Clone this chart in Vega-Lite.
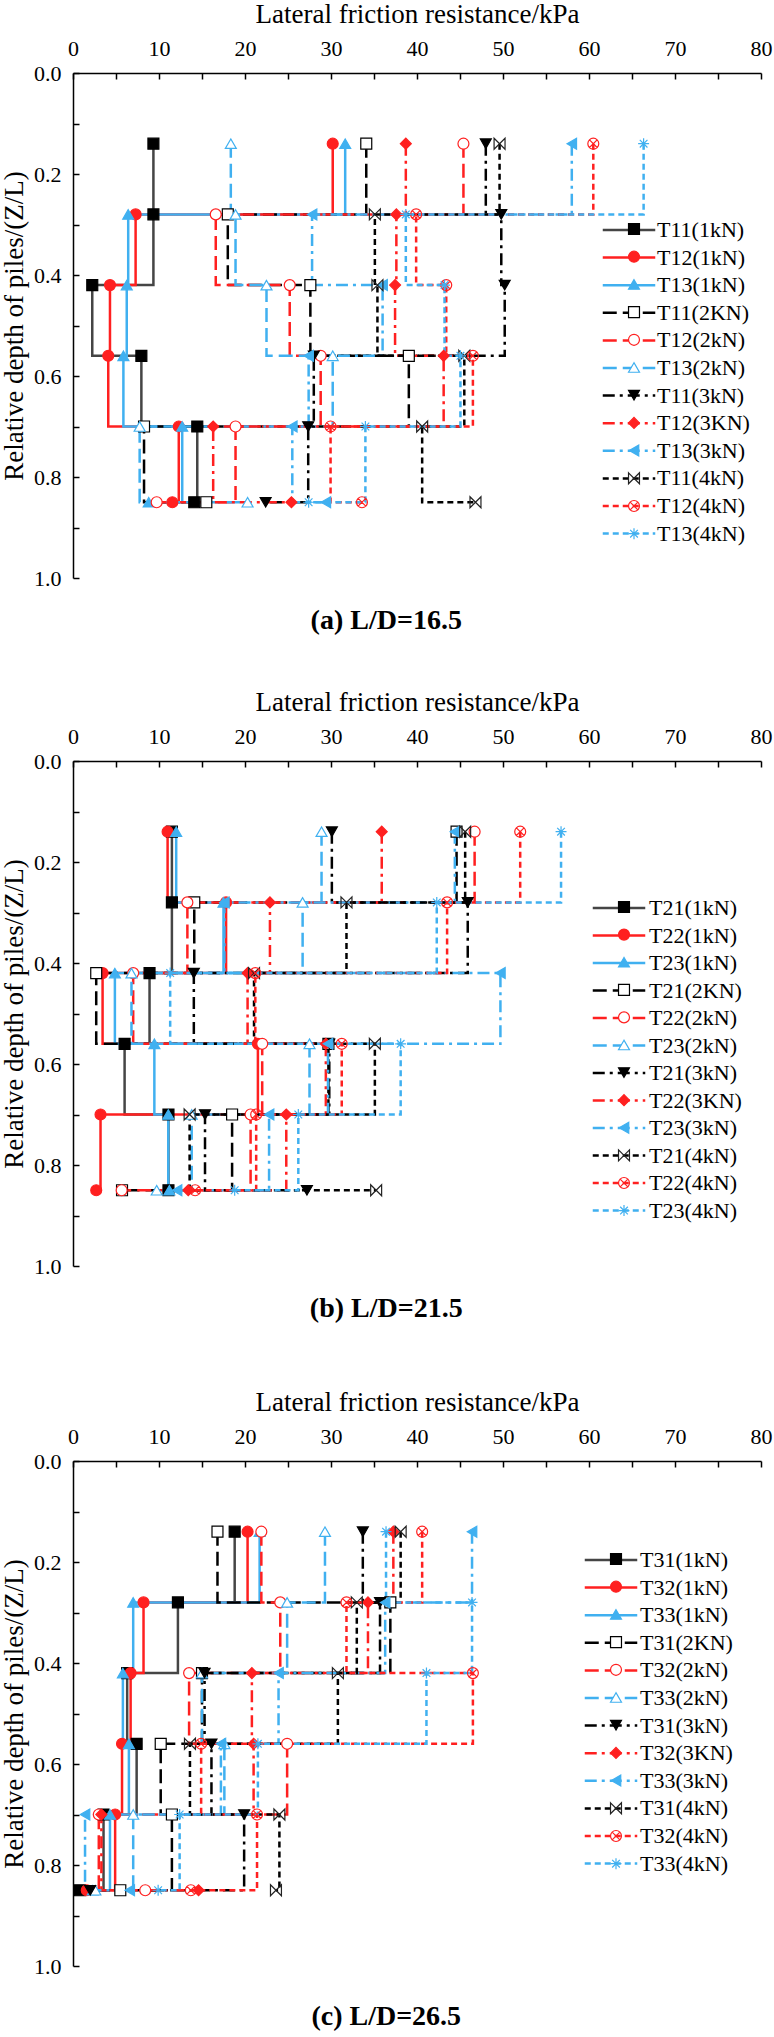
{
  "$schema": "https://vega.github.io/schema/vega-lite/v6.json",
  "background": "white",
  "padding": {"left": 0, "top": 0, "right": 4, "bottom": 0},
  "config": {
    "view": {"stroke": null},
    "font": "Liberation Serif",
    "axis": {
      "grid": false,
      "domainColor": "black",
      "domainWidth": 1.5,
      "tickColor": "black",
      "tickWidth": 1.5,
      "tickSize": -6,
      "labelColor": "black",
      "titleColor": "black",
      "labelFont": "Liberation Serif",
      "titleFont": "Liberation Serif",
      "labelFontSize": 22,
      "titleFontSize": 27,
      "titleFontWeight": "normal",
      "labelFlush": false,
      "labelOverlap": false
    },
    "legend": {
      "labelFont": "Liberation Serif",
      "labelFontSize": 22,
      "labelColor": "black"
    }
  },
  "data": {
    "values": [
      {"panel":"a","series":"T11(1kN)","depth":0.14,"friction":9.35},
      {"panel":"a","series":"T11(1kN)","depth":0.28,"friction":9.35},
      {"panel":"a","series":"T11(1kN)","depth":0.42,"friction":2.24},
      {"panel":"a","series":"T11(1kN)","depth":0.56,"friction":7.95},
      {"panel":"a","series":"T11(1kN)","depth":0.70,"friction":14.45},
      {"panel":"a","series":"T11(1kN)","depth":0.85,"friction":14.1},
      {"panel":"a","series":"T12(1kN)","depth":0.14,"friction":30.2},
      {"panel":"a","series":"T12(1kN)","depth":0.28,"friction":7.28},
      {"panel":"a","series":"T12(1kN)","depth":0.42,"friction":4.3},
      {"panel":"a","series":"T12(1kN)","depth":0.56,"friction":4.1},
      {"panel":"a","series":"T12(1kN)","depth":0.70,"friction":12.3},
      {"panel":"a","series":"T12(1kN)","depth":0.85,"friction":11.55},
      {"panel":"a","series":"T13(1kN)","depth":0.14,"friction":31.65},
      {"panel":"a","series":"T13(1kN)","depth":0.28,"friction":6.42},
      {"panel":"a","series":"T13(1kN)","depth":0.42,"friction":6.25},
      {"panel":"a","series":"T13(1kN)","depth":0.56,"friction":5.86},
      {"panel":"a","series":"T13(1kN)","depth":0.70,"friction":12.7},
      {"panel":"a","series":"T13(1kN)","depth":0.85,"friction":8.8},
      {"panel":"a","series":"T11(2KN)","depth":0.14,"friction":34.1},
      {"panel":"a","series":"T11(2KN)","depth":0.28,"friction":18.0},
      {"panel":"a","series":"T11(2KN)","depth":0.42,"friction":27.6},
      {"panel":"a","series":"T11(2KN)","depth":0.56,"friction":39.05},
      {"panel":"a","series":"T11(2KN)","depth":0.70,"friction":8.26},
      {"panel":"a","series":"T11(2KN)","depth":0.85,"friction":15.5},
      {"panel":"a","series":"T12(2kN)","depth":0.14,"friction":45.4},
      {"panel":"a","series":"T12(2kN)","depth":0.28,"friction":16.6},
      {"panel":"a","series":"T12(2kN)","depth":0.42,"friction":25.2},
      {"panel":"a","series":"T12(2kN)","depth":0.56,"friction":28.8},
      {"panel":"a","series":"T12(2kN)","depth":0.70,"friction":18.9},
      {"panel":"a","series":"T12(2kN)","depth":0.85,"friction":9.73},
      {"panel":"a","series":"T13(2kN)","depth":0.14,"friction":18.35},
      {"panel":"a","series":"T13(2kN)","depth":0.28,"friction":18.9},
      {"panel":"a","series":"T13(2kN)","depth":0.42,"friction":22.5},
      {"panel":"a","series":"T13(2kN)","depth":0.56,"friction":30.2},
      {"panel":"a","series":"T13(2kN)","depth":0.70,"friction":7.75},
      {"panel":"a","series":"T13(2kN)","depth":0.85,"friction":20.3},
      {"panel":"a","series":"T11(3kN)","depth":0.14,"friction":48.0},
      {"panel":"a","series":"T11(3kN)","depth":0.28,"friction":49.8},
      {"panel":"a","series":"T11(3kN)","depth":0.42,"friction":50.2},
      {"panel":"a","series":"T11(3kN)","depth":0.56,"friction":28.0},
      {"panel":"a","series":"T11(3kN)","depth":0.70,"friction":27.35},
      {"panel":"a","series":"T11(3kN)","depth":0.85,"friction":22.4},
      {"panel":"a","series":"T12(3KN)","depth":0.14,"friction":38.7},
      {"panel":"a","series":"T12(3KN)","depth":0.28,"friction":37.6},
      {"panel":"a","series":"T12(3KN)","depth":0.42,"friction":37.45},
      {"panel":"a","series":"T12(3KN)","depth":0.56,"friction":43.1},
      {"panel":"a","series":"T12(3KN)","depth":0.70,"friction":16.3},
      {"panel":"a","series":"T12(3KN)","depth":0.85,"friction":25.4},
      {"panel":"a","series":"T13(3kN)","depth":0.14,"friction":58.0},
      {"panel":"a","series":"T13(3kN)","depth":0.28,"friction":27.8},
      {"panel":"a","series":"T13(3kN)","depth":0.42,"friction":36.0},
      {"panel":"a","series":"T13(3kN)","depth":0.56,"friction":27.4},
      {"panel":"a","series":"T13(3kN)","depth":0.70,"friction":25.5},
      {"panel":"a","series":"T13(3kN)","depth":0.85,"friction":29.4},
      {"panel":"a","series":"T11(4kN)","depth":0.14,"friction":49.6},
      {"panel":"a","series":"T11(4kN)","depth":0.28,"friction":35.1},
      {"panel":"a","series":"T11(4kN)","depth":0.42,"friction":35.4},
      {"panel":"a","series":"T11(4kN)","depth":0.56,"friction":45.5},
      {"panel":"a","series":"T11(4kN)","depth":0.70,"friction":40.6},
      {"panel":"a","series":"T11(4kN)","depth":0.85,"friction":46.8},
      {"panel":"a","series":"T12(4kN)","depth":0.14,"friction":60.5},
      {"panel":"a","series":"T12(4kN)","depth":0.28,"friction":39.9},
      {"panel":"a","series":"T12(4kN)","depth":0.42,"friction":43.4},
      {"panel":"a","series":"T12(4kN)","depth":0.56,"friction":46.5},
      {"panel":"a","series":"T12(4kN)","depth":0.70,"friction":29.95},
      {"panel":"a","series":"T12(4kN)","depth":0.85,"friction":33.6},
      {"panel":"a","series":"T13(4kN)","depth":0.14,"friction":66.35},
      {"panel":"a","series":"T13(4kN)","depth":0.28,"friction":38.7},
      {"panel":"a","series":"T13(4kN)","depth":0.42,"friction":43.2},
      {"panel":"a","series":"T13(4kN)","depth":0.56,"friction":45.05},
      {"panel":"a","series":"T13(4kN)","depth":0.70,"friction":34.0},
      {"panel":"a","series":"T13(4kN)","depth":0.85,"friction":27.4},

      {"panel":"b","series":"T21(1kN)","depth":0.14,"friction":11.5},
      {"panel":"b","series":"T21(1kN)","depth":0.28,"friction":11.5},
      {"panel":"b","series":"T21(1kN)","depth":0.42,"friction":8.9},
      {"panel":"b","series":"T21(1kN)","depth":0.56,"friction":6.0},
      {"panel":"b","series":"T21(1kN)","depth":0.70,"friction":11.1},
      {"panel":"b","series":"T21(1kN)","depth":0.85,"friction":11.1},
      {"panel":"b","series":"T22(1kN)","depth":0.14,"friction":11.0},
      {"panel":"b","series":"T22(1kN)","depth":0.28,"friction":17.8},
      {"panel":"b","series":"T22(1kN)","depth":0.42,"friction":3.44},
      {"panel":"b","series":"T22(1kN)","depth":0.56,"friction":21.5},
      {"panel":"b","series":"T22(1kN)","depth":0.70,"friction":3.2},
      {"panel":"b","series":"T22(1kN)","depth":0.85,"friction":2.7},
      {"panel":"b","series":"T23(1kN)","depth":0.14,"friction":12.0},
      {"panel":"b","series":"T23(1kN)","depth":0.28,"friction":17.5},
      {"panel":"b","series":"T23(1kN)","depth":0.42,"friction":4.87},
      {"panel":"b","series":"T23(1kN)","depth":0.56,"friction":9.46},
      {"panel":"b","series":"T23(1kN)","depth":0.70,"friction":11.08},
      {"panel":"b","series":"T23(1kN)","depth":0.85,"friction":11.2},
      {"panel":"b","series":"T21(2KN)","depth":0.14,"friction":44.6},
      {"panel":"b","series":"T21(2KN)","depth":0.28,"friction":14.1},
      {"panel":"b","series":"T21(2KN)","depth":0.42,"friction":2.7},
      {"panel":"b","series":"T21(2KN)","depth":0.56,"friction":29.7},
      {"panel":"b","series":"T21(2KN)","depth":0.70,"friction":18.5},
      {"panel":"b","series":"T21(2KN)","depth":0.85,"friction":5.7},
      {"panel":"b","series":"T22(2kN)","depth":0.14,"friction":46.7},
      {"panel":"b","series":"T22(2kN)","depth":0.28,"friction":13.3},
      {"panel":"b","series":"T22(2kN)","depth":0.42,"friction":7.0},
      {"panel":"b","series":"T22(2kN)","depth":0.56,"friction":22.0},
      {"panel":"b","series":"T22(2kN)","depth":0.70,"friction":20.65},
      {"panel":"b","series":"T22(2kN)","depth":0.85,"friction":5.66},
      {"panel":"b","series":"T23(2kN)","depth":0.14,"friction":28.9},
      {"panel":"b","series":"T23(2kN)","depth":0.28,"friction":26.7},
      {"panel":"b","series":"T23(2kN)","depth":0.42,"friction":6.8},
      {"panel":"b","series":"T23(2kN)","depth":0.56,"friction":27.5},
      {"panel":"b","series":"T23(2kN)","depth":0.70,"friction":13.8},
      {"panel":"b","series":"T23(2kN)","depth":0.85,"friction":9.73},
      {"panel":"b","series":"T21(3kN)","depth":0.14,"friction":30.1},
      {"panel":"b","series":"T21(3kN)","depth":0.28,"friction":45.9},
      {"panel":"b","series":"T21(3kN)","depth":0.42,"friction":14.05},
      {"panel":"b","series":"T21(3kN)","depth":0.56,"friction":29.8},
      {"panel":"b","series":"T21(3kN)","depth":0.70,"friction":15.35},
      {"panel":"b","series":"T21(3kN)","depth":0.85,"friction":27.2},
      {"panel":"b","series":"T22(3KN)","depth":0.14,"friction":35.9},
      {"panel":"b","series":"T22(3KN)","depth":0.28,"friction":22.9},
      {"panel":"b","series":"T22(3KN)","depth":0.42,"friction":20.3},
      {"panel":"b","series":"T22(3KN)","depth":0.56,"friction":29.4},
      {"panel":"b","series":"T22(3KN)","depth":0.70,"friction":24.8},
      {"panel":"b","series":"T22(3KN)","depth":0.85,"friction":13.4},
      {"panel":"b","series":"T23(3kN)","depth":0.14,"friction":44.4},
      {"panel":"b","series":"T23(3kN)","depth":0.28,"friction":17.6},
      {"panel":"b","series":"T23(3kN)","depth":0.42,"friction":49.7},
      {"panel":"b","series":"T23(3kN)","depth":0.56,"friction":29.65},
      {"panel":"b","series":"T23(3kN)","depth":0.70,"friction":22.8},
      {"panel":"b","series":"T23(3kN)","depth":0.85,"friction":12.1},
      {"panel":"b","series":"T21(4kN)","depth":0.14,"friction":45.6},
      {"panel":"b","series":"T21(4kN)","depth":0.28,"friction":31.8},
      {"panel":"b","series":"T21(4kN)","depth":0.42,"friction":21.05},
      {"panel":"b","series":"T21(4kN)","depth":0.56,"friction":35.1},
      {"panel":"b","series":"T21(4kN)","depth":0.70,"friction":13.56},
      {"panel":"b","series":"T21(4kN)","depth":0.85,"friction":35.25},
      {"panel":"b","series":"T22(4kN)","depth":0.14,"friction":52.0},
      {"panel":"b","series":"T22(4kN)","depth":0.28,"friction":43.5},
      {"panel":"b","series":"T22(4kN)","depth":0.42,"friction":21.2},
      {"panel":"b","series":"T22(4kN)","depth":0.56,"friction":31.25},
      {"panel":"b","series":"T22(4kN)","depth":0.70,"friction":21.3},
      {"panel":"b","series":"T22(4kN)","depth":0.85,"friction":14.2},
      {"panel":"b","series":"T23(4kN)","depth":0.14,"friction":56.75},
      {"panel":"b","series":"T23(4kN)","depth":0.28,"friction":42.3},
      {"panel":"b","series":"T23(4kN)","depth":0.42,"friction":11.3},
      {"panel":"b","series":"T23(4kN)","depth":0.56,"friction":38.1},
      {"panel":"b","series":"T23(4kN)","depth":0.70,"friction":26.2},
      {"panel":"b","series":"T23(4kN)","depth":0.85,"friction":18.8},

      {"panel":"c","series":"T31(1kN)","depth":0.14,"friction":18.8},
      {"panel":"c","series":"T31(1kN)","depth":0.28,"friction":12.2},
      {"panel":"c","series":"T31(1kN)","depth":0.42,"friction":6.3},
      {"panel":"c","series":"T31(1kN)","depth":0.56,"friction":7.4},
      {"panel":"c","series":"T31(1kN)","depth":0.70,"friction":3.55},
      {"panel":"c","series":"T31(1kN)","depth":0.85,"friction":0.8},
      {"panel":"c","series":"T32(1kN)","depth":0.14,"friction":20.3},
      {"panel":"c","series":"T32(1kN)","depth":0.28,"friction":8.2},
      {"panel":"c","series":"T32(1kN)","depth":0.42,"friction":6.7},
      {"panel":"c","series":"T32(1kN)","depth":0.56,"friction":5.7},
      {"panel":"c","series":"T32(1kN)","depth":0.70,"friction":4.9},
      {"panel":"c","series":"T32(1kN)","depth":0.85,"friction":1.6},
      {"panel":"c","series":"T33(1kN)","depth":0.14,"friction":21.7},
      {"panel":"c","series":"T33(1kN)","depth":0.28,"friction":7.0},
      {"panel":"c","series":"T33(1kN)","depth":0.42,"friction":5.8},
      {"panel":"c","series":"T33(1kN)","depth":0.56,"friction":6.5},
      {"panel":"c","series":"T33(1kN)","depth":0.70,"friction":4.3},
      {"panel":"c","series":"T33(1kN)","depth":0.85,"friction":2.3},
      {"panel":"c","series":"T31(2KN)","depth":0.14,"friction":16.8},
      {"panel":"c","series":"T31(2KN)","depth":0.28,"friction":36.9},
      {"panel":"c","series":"T31(2KN)","depth":0.42,"friction":15.0},
      {"panel":"c","series":"T31(2KN)","depth":0.56,"friction":10.2},
      {"panel":"c","series":"T31(2KN)","depth":0.70,"friction":11.5},
      {"panel":"c","series":"T31(2KN)","depth":0.85,"friction":5.5},
      {"panel":"c","series":"T32(2kN)","depth":0.14,"friction":21.9},
      {"panel":"c","series":"T32(2kN)","depth":0.28,"friction":24.1},
      {"panel":"c","series":"T32(2kN)","depth":0.42,"friction":13.5},
      {"panel":"c","series":"T32(2kN)","depth":0.56,"friction":24.9},
      {"panel":"c","series":"T32(2kN)","depth":0.70,"friction":3.0},
      {"panel":"c","series":"T32(2kN)","depth":0.85,"friction":8.4},
      {"panel":"c","series":"T33(2kN)","depth":0.14,"friction":29.3},
      {"panel":"c","series":"T33(2kN)","depth":0.28,"friction":24.9},
      {"panel":"c","series":"T33(2kN)","depth":0.42,"friction":15.0},
      {"panel":"c","series":"T33(2kN)","depth":0.56,"friction":17.6},
      {"panel":"c","series":"T33(2kN)","depth":0.70,"friction":7.0},
      {"panel":"c","series":"T33(2kN)","depth":0.85,"friction":2.6},
      {"panel":"c","series":"T31(3kN)","depth":0.14,"friction":33.7},
      {"panel":"c","series":"T31(3kN)","depth":0.28,"friction":35.7},
      {"panel":"c","series":"T31(3kN)","depth":0.42,"friction":15.3},
      {"panel":"c","series":"T31(3kN)","depth":0.56,"friction":16.1},
      {"panel":"c","series":"T31(3kN)","depth":0.70,"friction":19.9},
      {"panel":"c","series":"T31(3kN)","depth":0.85,"friction":2.0},
      {"panel":"c","series":"T32(3KN)","depth":0.14,"friction":37.25},
      {"panel":"c","series":"T32(3KN)","depth":0.28,"friction":34.3},
      {"panel":"c","series":"T32(3KN)","depth":0.42,"friction":20.8},
      {"panel":"c","series":"T32(3KN)","depth":0.56,"friction":21.0},
      {"panel":"c","series":"T32(3KN)","depth":0.70,"friction":3.3},
      {"panel":"c","series":"T32(3KN)","depth":0.85,"friction":14.6},
      {"panel":"c","series":"T33(3kN)","depth":0.14,"friction":46.4},
      {"panel":"c","series":"T33(3kN)","depth":0.28,"friction":36.3},
      {"panel":"c","series":"T33(3kN)","depth":0.42,"friction":23.9},
      {"panel":"c","series":"T33(3kN)","depth":0.56,"friction":17.2},
      {"panel":"c","series":"T33(3kN)","depth":0.70,"friction":1.4},
      {"panel":"c","series":"T33(3kN)","depth":0.85,"friction":6.6},
      {"panel":"c","series":"T31(4kN)","depth":0.14,"friction":38.1},
      {"panel":"c","series":"T31(4kN)","depth":0.28,"friction":33.0},
      {"panel":"c","series":"T31(4kN)","depth":0.42,"friction":30.8},
      {"panel":"c","series":"T31(4kN)","depth":0.56,"friction":13.6},
      {"panel":"c","series":"T31(4kN)","depth":0.70,"friction":24.0},
      {"panel":"c","series":"T31(4kN)","depth":0.85,"friction":23.6},
      {"panel":"c","series":"T32(4kN)","depth":0.14,"friction":40.6},
      {"panel":"c","series":"T32(4kN)","depth":0.28,"friction":31.8},
      {"panel":"c","series":"T32(4kN)","depth":0.42,"friction":46.5},
      {"panel":"c","series":"T32(4kN)","depth":0.56,"friction":14.9},
      {"panel":"c","series":"T32(4kN)","depth":0.70,"friction":21.4},
      {"panel":"c","series":"T32(4kN)","depth":0.85,"friction":13.7},
      {"panel":"c","series":"T33(4kN)","depth":0.14,"friction":36.4},
      {"panel":"c","series":"T33(4kN)","depth":0.28,"friction":46.4},
      {"panel":"c","series":"T33(4kN)","depth":0.42,"friction":41.1},
      {"panel":"c","series":"T33(4kN)","depth":0.56,"friction":21.5},
      {"panel":"c","series":"T33(4kN)","depth":0.70,"friction":12.4},
      {"panel":"c","series":"T33(4kN)","depth":0.85,"friction":9.9}
    ]
  },
  "resolve": {
    "scale": {"color": "independent", "strokeDash": "independent", "shape": "independent", "fill": "independent", "stroke": "independent"},
    "legend": {"color": "independent", "strokeDash": "independent", "shape": "independent", "fill": "independent", "stroke": "independent"}
  },
  "spacing": 65,
  "vconcat": [
    {
      "resolve": {
        "scale": {"color": "independent", "strokeDash": "independent", "shape": "independent", "fill": "independent", "stroke": "independent"},
        "legend": {"color": "independent", "strokeDash": "independent", "shape": "independent", "fill": "independent", "stroke": "independent"}
      },
      "spacing": 53,
      "vconcat": [
        {
          "transform": [{"filter": "datum.panel == 'a'"}],
          "width": 688,
          "height": 505,
          "title": {"text": "(a) L/D=16.5", "orient": "bottom", "anchor": "middle", "frame": "bounds", "offset": 18, "font": "Liberation Serif", "fontSize": 28, "fontWeight": "bold", "color": "black"},
          "encoding": {
            "x": {"field": "friction", "type": "quantitative", "scale": {"domain": [0, 80], "nice": false},
              "axis": {"orient": "top", "title": "Lateral friction resistance/kPa", "values": [0,5,10,15,20,25,30,35,40,45,50,55,60,65,70,75,80], "labelExpr": "datum.value % 10 === 0 ? datum.label : ''", "labelPadding": 19, "titlePadding": 9}},
            "y": {"field": "depth", "type": "quantitative", "scale": {"domain": [0, 1], "reverse": true, "nice": false},
              "axis": {"title": "Relative depth of piles/(Z/L)", "values": [0,0.1,0.2,0.3,0.4,0.5,0.6,0.7,0.8,0.9,1], "labelExpr": "round(datum.value * 10) % 2 === 0 ? format(datum.value, '.1f') : ''", "labelPadding": 18, "titlePadding": 5}}
          },
          "resolve": {
            "scale": {"color": "independent", "strokeDash": "independent", "shape": "independent", "fill": "independent", "stroke": "independent"},
            "legend": {"color": "independent", "strokeDash": "independent", "shape": "independent", "fill": "independent", "stroke": "independent"}
          },
          "layer": [
            {
              "mark": {"type": "line", "interpolate": "step-before", "strokeWidth": 2.5},
              "encoding": {
                "color": {"field": "series", "type": "nominal",
                  "scale": {"domain": ["T11(1kN)","T12(1kN)","T13(1kN)","T11(2KN)","T12(2kN)","T13(2kN)","T11(3kN)","T12(3KN)","T13(3kN)","T11(4kN)","T12(4kN)","T13(4kN)"],
                            "range": ["#454545","#ff2020","#40b0f0","#000000","#ff2020","#40b0f0","#000000","#ff2020","#40b0f0","#000000","#ff2020","#40b0f0"]},
                  "legend": {"orient": "none", "legendX": 544, "legendY": 145, "direction": "vertical", "title": null, "symbolType": "M-2.5,0H2.5", "symbolSize": 441, "symbolStrokeWidth": 2.5, "labelOffset": 16, "rowPadding": 4.6, "labelLimit": 200}},
                "strokeDash": {"field": "series", "type": "nominal",
                  "scale": {"domain": ["T11(1kN)","T12(1kN)","T13(1kN)","T11(2KN)","T12(2kN)","T13(2kN)","T11(3kN)","T12(3KN)","T13(3kN)","T11(4kN)","T12(4kN)","T13(4kN)"],
                            "range": [[1,0],[1,0],[1,0],[14,6],[14,6],[14,6],[12,5,3,5],[12,5,3,5],[12,5,3,5],[6,4],[6,4],[6,4]]},
                  "legend": {"orient": "none", "legendX": 544, "legendY": 145, "direction": "vertical", "title": null, "symbolType": "M-2.5,0H2.5", "symbolSize": 441, "symbolStrokeWidth": 2.5, "labelOffset": 16, "rowPadding": 4.6, "labelLimit": 200}},
                "order": {"field": "depth", "type": "quantitative"}
              }
            },
            {
              "mark": {"type": "point", "size": 120, "opacity": 1, "strokeWidth": 1.2},
              "encoding": {
                "shape": {"field": "series", "type": "nominal",
                  "scale": {"domain": ["T11(1kN)","T12(1kN)","T13(1kN)","T11(2KN)","T12(2kN)","T13(2kN)","T11(3kN)","T12(3KN)","T13(3kN)","T11(4kN)","T12(4kN)","T13(4kN)"],
                            "range": ["square","circle","triangle-up","square","circle","triangle-up","triangle-down","diamond","triangle-left","M-1,-1L1,1L1,-1L-1,1Z","M1,0A1,1,0,1,1,-1,0A1,1,0,1,1,1,0ZM-0.7,-0.7L0.7,0.7M-0.7,0.7L0.7,-0.7","M0,-1V1M-1,0H1M-0.7,-0.7L0.7,0.7M-0.7,0.7L0.7,-0.7"]},
                  "legend": {"orient": "none", "legendX": 550, "legendY": 145, "direction": "vertical", "title": null, "symbolSize": 120, "symbolStrokeWidth": 1.2, "symbolOpacity": 1, "labelExpr": "''", "labelOffset": 16, "rowPadding": 5.7}},
                "fill": {"field": "series", "type": "nominal",
                  "scale": {"domain": ["T11(1kN)","T12(1kN)","T13(1kN)","T11(2KN)","T12(2kN)","T13(2kN)","T11(3kN)","T12(3KN)","T13(3kN)","T11(4kN)","T12(4kN)","T13(4kN)"],
                            "range": ["#000000","#ff2020","#40b0f0","#ffffff","#ffffff","#ffffff","#000000","#ff2020","#40b0f0","transparent","transparent","transparent"]},
                  "legend": {"orient": "none", "legendX": 550, "legendY": 145, "direction": "vertical", "title": null, "symbolSize": 120, "symbolStrokeWidth": 1.2, "symbolOpacity": 1, "labelExpr": "''", "labelOffset": 16, "rowPadding": 5.7}},
                "stroke": {"field": "series", "type": "nominal",
                  "scale": {"domain": ["T11(1kN)","T12(1kN)","T13(1kN)","T11(2KN)","T12(2kN)","T13(2kN)","T11(3kN)","T12(3KN)","T13(3kN)","T11(4kN)","T12(4kN)","T13(4kN)"],
                            "range": ["#000000","#ff2020","#40b0f0","#000000","#ff2020","#40b0f0","#000000","#ff2020","#40b0f0","#222222","#ff2020","#40b0f0"]},
                  "legend": {"orient": "none", "legendX": 550, "legendY": 145, "direction": "vertical", "title": null, "symbolSize": 120, "symbolStrokeWidth": 1.2, "symbolOpacity": 1, "labelExpr": "''", "labelOffset": 16, "rowPadding": 5.7}}
              }
            }
          ]
        },
        {
          "transform": [{"filter": "datum.panel == 'b'"}],
          "width": 688,
          "height": 505,
          "title": {"text": "(b) L/D=21.5", "orient": "bottom", "anchor": "middle", "frame": "bounds", "offset": 18, "font": "Liberation Serif", "fontSize": 28, "fontWeight": "bold", "color": "black"},
          "encoding": {
            "x": {"field": "friction", "type": "quantitative", "scale": {"domain": [0, 80], "nice": false},
              "axis": {"orient": "top", "title": "Lateral friction resistance/kPa", "values": [0,5,10,15,20,25,30,35,40,45,50,55,60,65,70,75,80], "labelExpr": "datum.value % 10 === 0 ? datum.label : ''", "labelPadding": 19, "titlePadding": 9}},
            "y": {"field": "depth", "type": "quantitative", "scale": {"domain": [0, 1], "reverse": true, "nice": false},
              "axis": {"title": "Relative depth of piles/(Z/L)", "values": [0,0.1,0.2,0.3,0.4,0.5,0.6,0.7,0.8,0.9,1], "labelExpr": "round(datum.value * 10) % 2 === 0 ? format(datum.value, '.1f') : ''", "labelPadding": 18, "titlePadding": 5}}
          },
          "resolve": {
            "scale": {"color": "independent", "strokeDash": "independent", "shape": "independent", "fill": "independent", "stroke": "independent"},
            "legend": {"color": "independent", "strokeDash": "independent", "shape": "independent", "fill": "independent", "stroke": "independent"}
          },
          "layer": [
            {
              "mark": {"type": "line", "interpolate": "step-before", "strokeWidth": 2.5},
              "encoding": {
                "color": {"field": "series", "type": "nominal",
                  "scale": {"domain": ["T21(1kN)","T22(1kN)","T23(1kN)","T21(2KN)","T22(2kN)","T23(2kN)","T21(3kN)","T22(3KN)","T23(3kN)","T21(4kN)","T22(4kN)","T23(4kN)"],
                            "range": ["#454545","#ff2020","#40b0f0","#000000","#ff2020","#40b0f0","#000000","#ff2020","#40b0f0","#000000","#ff2020","#40b0f0"]},
                  "legend": {"orient": "none", "legendX": 534, "legendY": 135, "direction": "vertical", "title": null, "symbolType": "M-2.5,0H2.5", "symbolSize": 441, "symbolStrokeWidth": 2.5, "labelOffset": 18, "rowPadding": 4.5, "labelLimit": 200}},
                "strokeDash": {"field": "series", "type": "nominal",
                  "scale": {"domain": ["T21(1kN)","T22(1kN)","T23(1kN)","T21(2KN)","T22(2kN)","T23(2kN)","T21(3kN)","T22(3KN)","T23(3kN)","T21(4kN)","T22(4kN)","T23(4kN)"],
                            "range": [[1,0],[1,0],[1,0],[14,6],[14,6],[14,6],[12,5,3,5],[12,5,3,5],[12,5,3,5],[6,4],[6,4],[6,4]]},
                  "legend": {"orient": "none", "legendX": 534, "legendY": 135, "direction": "vertical", "title": null, "symbolType": "M-2.5,0H2.5", "symbolSize": 441, "symbolStrokeWidth": 2.5, "labelOffset": 18, "rowPadding": 4.5, "labelLimit": 200}},
                "order": {"field": "depth", "type": "quantitative"}
              }
            },
            {
              "mark": {"type": "point", "size": 120, "opacity": 1, "strokeWidth": 1.2},
              "encoding": {
                "shape": {"field": "series", "type": "nominal",
                  "scale": {"domain": ["T21(1kN)","T22(1kN)","T23(1kN)","T21(2KN)","T22(2kN)","T23(2kN)","T21(3kN)","T22(3KN)","T23(3kN)","T21(4kN)","T22(4kN)","T23(4kN)"],
                            "range": ["square","circle","triangle-up","square","circle","triangle-up","triangle-down","diamond","triangle-left","M-1,-1L1,1L1,-1L-1,1Z","M1,0A1,1,0,1,1,-1,0A1,1,0,1,1,1,0ZM-0.7,-0.7L0.7,0.7M-0.7,0.7L0.7,-0.7","M0,-1V1M-1,0H1M-0.7,-0.7L0.7,0.7M-0.7,0.7L0.7,-0.7"]},
                  "legend": {"orient": "none", "legendX": 540, "legendY": 135, "direction": "vertical", "title": null, "symbolSize": 120, "symbolStrokeWidth": 1.2, "symbolOpacity": 1, "labelExpr": "''", "labelOffset": 18, "rowPadding": 5.6}},
                "fill": {"field": "series", "type": "nominal",
                  "scale": {"domain": ["T21(1kN)","T22(1kN)","T23(1kN)","T21(2KN)","T22(2kN)","T23(2kN)","T21(3kN)","T22(3KN)","T23(3kN)","T21(4kN)","T22(4kN)","T23(4kN)"],
                            "range": ["#000000","#ff2020","#40b0f0","#ffffff","#ffffff","#ffffff","#000000","#ff2020","#40b0f0","transparent","transparent","transparent"]},
                  "legend": {"orient": "none", "legendX": 540, "legendY": 135, "direction": "vertical", "title": null, "symbolSize": 120, "symbolStrokeWidth": 1.2, "symbolOpacity": 1, "labelExpr": "''", "labelOffset": 18, "rowPadding": 5.6}},
                "stroke": {"field": "series", "type": "nominal",
                  "scale": {"domain": ["T21(1kN)","T22(1kN)","T23(1kN)","T21(2KN)","T22(2kN)","T23(2kN)","T21(3kN)","T22(3KN)","T23(3kN)","T21(4kN)","T22(4kN)","T23(4kN)"],
                            "range": ["#000000","#ff2020","#40b0f0","#000000","#ff2020","#40b0f0","#000000","#ff2020","#40b0f0","#222222","#ff2020","#40b0f0"]},
                  "legend": {"orient": "none", "legendX": 540, "legendY": 135, "direction": "vertical", "title": null, "symbolSize": 120, "symbolStrokeWidth": 1.2, "symbolOpacity": 1, "labelExpr": "''", "labelOffset": 18, "rowPadding": 5.6}}
              }
            }
          ]
        }
      ]
    },
    {
      "transform": [{"filter": "datum.panel == 'c'"}],
      "width": 688,
      "height": 505,
      "title": {"text": "(c) L/D=26.5", "orient": "bottom", "anchor": "middle", "frame": "bounds", "offset": 26, "font": "Liberation Serif", "fontSize": 28, "fontWeight": "bold", "color": "black"},
      "encoding": {
        "x": {"field": "friction", "type": "quantitative", "scale": {"domain": [0, 80], "nice": false},
          "axis": {"orient": "top", "title": "Lateral friction resistance/kPa", "values": [0,5,10,15,20,25,30,35,40,45,50,55,60,65,70,75,80], "labelExpr": "datum.value % 10 === 0 ? datum.label : ''", "labelPadding": 19, "titlePadding": 9}},
        "y": {"field": "depth", "type": "quantitative", "scale": {"domain": [0, 1], "reverse": true, "nice": false},
          "axis": {"title": "Relative depth of piles/(Z/L)", "values": [0,0.1,0.2,0.3,0.4,0.5,0.6,0.7,0.8,0.9,1], "labelExpr": "round(datum.value * 10) % 2 === 0 ? format(datum.value, '.1f') : ''", "labelPadding": 18, "titlePadding": 5}}
      },
      "resolve": {
        "scale": {"color": "independent", "strokeDash": "independent", "shape": "independent", "fill": "independent", "stroke": "independent"},
        "legend": {"color": "independent", "strokeDash": "independent", "shape": "independent", "fill": "independent", "stroke": "independent"}
      },
      "layer": [
        {
          "mark": {"type": "line", "interpolate": "step-before", "strokeWidth": 2.5},
          "encoding": {
            "color": {"field": "series", "type": "nominal",
              "scale": {"domain": ["T31(1kN)","T32(1kN)","T33(1kN)","T31(2KN)","T32(2kN)","T33(2kN)","T31(3kN)","T32(3KN)","T33(3kN)","T31(4kN)","T32(4kN)","T33(4kN)"],
                        "range": ["#454545","#ff2020","#40b0f0","#000000","#ff2020","#40b0f0","#000000","#ff2020","#40b0f0","#000000","#ff2020","#40b0f0"]},
              "legend": {"orient": "none", "legendX": 526, "legendY": 87, "direction": "vertical", "title": null, "symbolType": "M-2.5,0H2.5", "symbolSize": 441, "symbolStrokeWidth": 2.5, "labelOffset": 17, "rowPadding": 4.6, "labelLimit": 200}},
            "strokeDash": {"field": "series", "type": "nominal",
              "scale": {"domain": ["T31(1kN)","T32(1kN)","T33(1kN)","T31(2KN)","T32(2kN)","T33(2kN)","T31(3kN)","T32(3KN)","T33(3kN)","T31(4kN)","T32(4kN)","T33(4kN)"],
                        "range": [[1,0],[1,0],[1,0],[14,6],[14,6],[14,6],[12,5,3,5],[12,5,3,5],[12,5,3,5],[6,4],[6,4],[6,4]]},
              "legend": {"orient": "none", "legendX": 526, "legendY": 87, "direction": "vertical", "title": null, "symbolType": "M-2.5,0H2.5", "symbolSize": 441, "symbolStrokeWidth": 2.5, "labelOffset": 17, "rowPadding": 4.6, "labelLimit": 200}},
            "order": {"field": "depth", "type": "quantitative"}
          }
        },
        {
          "mark": {"type": "point", "size": 120, "opacity": 1, "strokeWidth": 1.2},
          "encoding": {
            "shape": {"field": "series", "type": "nominal",
              "scale": {"domain": ["T31(1kN)","T32(1kN)","T33(1kN)","T31(2KN)","T32(2kN)","T33(2kN)","T31(3kN)","T32(3KN)","T33(3kN)","T31(4kN)","T32(4kN)","T33(4kN)"],
                        "range": ["square","circle","triangle-up","square","circle","triangle-up","triangle-down","diamond","triangle-left","M-1,-1L1,1L1,-1L-1,1Z","M1,0A1,1,0,1,1,-1,0A1,1,0,1,1,1,0ZM-0.7,-0.7L0.7,0.7M-0.7,0.7L0.7,-0.7","M0,-1V1M-1,0H1M-0.7,-0.7L0.7,0.7M-0.7,0.7L0.7,-0.7"]},
              "legend": {"orient": "none", "legendX": 532, "legendY": 87, "direction": "vertical", "title": null, "symbolSize": 120, "symbolStrokeWidth": 1.2, "symbolOpacity": 1, "labelExpr": "''", "labelOffset": 17, "rowPadding": 5.7}},
            "fill": {"field": "series", "type": "nominal",
              "scale": {"domain": ["T31(1kN)","T32(1kN)","T33(1kN)","T31(2KN)","T32(2kN)","T33(2kN)","T31(3kN)","T32(3KN)","T33(3kN)","T31(4kN)","T32(4kN)","T33(4kN)"],
                        "range": ["#000000","#ff2020","#40b0f0","#ffffff","#ffffff","#ffffff","#000000","#ff2020","#40b0f0","transparent","transparent","transparent"]},
              "legend": {"orient": "none", "legendX": 532, "legendY": 87, "direction": "vertical", "title": null, "symbolSize": 120, "symbolStrokeWidth": 1.2, "symbolOpacity": 1, "labelExpr": "''", "labelOffset": 17, "rowPadding": 5.7}},
            "stroke": {"field": "series", "type": "nominal",
              "scale": {"domain": ["T31(1kN)","T32(1kN)","T33(1kN)","T31(2KN)","T32(2kN)","T33(2kN)","T31(3kN)","T32(3KN)","T33(3kN)","T31(4kN)","T32(4kN)","T33(4kN)"],
                        "range": ["#000000","#ff2020","#40b0f0","#000000","#ff2020","#40b0f0","#000000","#ff2020","#40b0f0","#222222","#ff2020","#40b0f0"]},
              "legend": {"orient": "none", "legendX": 532, "legendY": 87, "direction": "vertical", "title": null, "symbolSize": 120, "symbolStrokeWidth": 1.2, "symbolOpacity": 1, "labelExpr": "''", "labelOffset": 17, "rowPadding": 5.7}}
          }
        }
      ]
    }
  ]
}
